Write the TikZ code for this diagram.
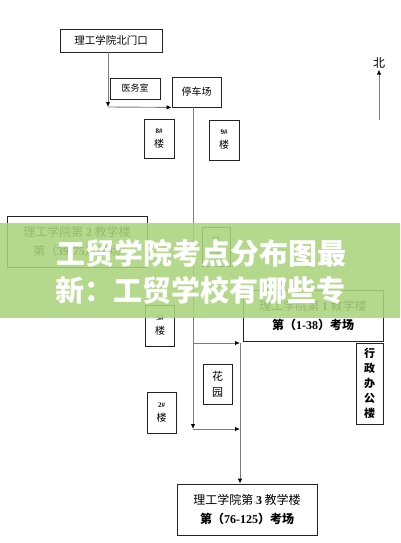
\documentclass[tikz,border=0pt]{standalone}
\usepackage{fontspec}
\newfontfamily\cjk{Noto Sans CJK SC}
\newfontfamily\numf{Liberation Serif}
\usetikzlibrary{arrows.meta}
\definecolor{linegray}{RGB}{125,125,125}
\definecolor{boxline}{RGB}{35,35,35}
\definecolor{bannergreen}{RGB}{170,211,125}
\newcommand{\nb}[1]{{\numf\bfseries #1}}
\newcommand{\bno}[1]{{\numf\bfseries\fontsize{7}{8}\selectfont #1\#}}
\begin{document}
\begin{tikzpicture}[x=1pt,y=-1pt,
  box/.style={draw=boxline, line width=0.8pt, inner sep=0pt, align=center,
    font=\cjk\fontsize{10}{12}\selectfont},
  bigbox/.style={box, minimum width=140pt, minimum height=51pt,
    font=\cjk\fontsize{12}{19}\selectfont},
  smallbld/.style={box, minimum width=30pt, minimum height=40pt,
    font=\cjk\fontsize{10}{12}\selectfont},
  conn/.style={draw=linegray, line width=0.9pt},
  arr/.style={conn, -{Latex[length=5pt,width=4.5pt,black]}},
  bannertext/.style={text=white, font=\cjk\bfseries\fontsize{29}{32}\selectfont, inner sep=0pt}
]
\useasboundingbox[fill=white] (0,0) rectangle (400,543);

% nodes
\node[box, minimum width=102pt, minimum height=23pt, font=\cjk\fontsize{10.5}{12}\selectfont] (gate) at (111,40.5) {理工学院北门口};
\node[box, minimum width=50pt, minimum height=21pt, font=\cjk\fontsize{9}{11}\selectfont] (med) at (135,88.5) {医务室};
\node[box, minimum width=49pt, minimum height=30pt] (park) at (196.5,92) {停车场};
\node[smallbld, minimum height=39pt] (b8) at (159,138.5) {\bno{8}\\[2pt]楼};
\node[smallbld] (b9) at (224,140) {\bno{9}\\[2pt]楼};
\node[bigbox] (t2) at (77,241.5) {理工学院第 \nb{2} 教学楼\\第（\nb{39-75}）考场};
\node[smallbld, minimum width=28pt, minimum height=39pt] (b6) at (216,246.5) {\bno{6}\\[2pt]楼};
\node[smallbld, minimum width=29pt, minimum height=41pt] (b3) at (160,325.5) {\bno{3}\\[2pt]楼};
\node[bigbox] (t1) at (313,315.5) {理工学院第 \nb{1} 教学楼\\\bfseries 第（\nb{1-38}）考场};
\node[smallbld, minimum width=29pt, minimum height=40pt, font=\cjk\fontsize{11}{16}\selectfont] (garden) at (217.5,384) {花\\园};
\node[smallbld, minimum width=29pt, minimum height=41pt] (b2) at (161.5,412.5) {\bno{2}\\[2pt]楼};
\node[box, minimum width=27pt, minimum height=81pt, font=\cjk\bfseries\fontsize{11}{15}\selectfont] (admin) at (369.5,383.5) {行\\政\\办\\公\\楼};
\node[bigbox] (t3) at (247,509.5) {理工学院第 \nb{3} 教学楼\\\bfseries 第（\nb{76-125}）考场};

% north marker
\node[font=\cjk\fontsize{12}{14}\selectfont, inner sep=1pt] (north) at (379,63) {北};
\coordinate (n0) at (379,120);
\draw[arr] (n0) -- (north.south);

% routes
\coordinate (j1) at (108,107);
\coordinate (j2) at (193,429);
\coordinate (r1) at (240,343);
\coordinate (r2) at (240,429);
\draw[arr] (j1 |- gate.south) -- (j1);
\draw[arr] (j1) -- (park.south west);
\draw[arr] (j2 |- park.south) -- (j2);
\draw[arr] (j2 |- r1) -- (r1);
\draw[arr] (j2) -- (r2);
\draw[arr] (r1) -- (r1 |- t3.north);

% overlay banner
\fill[bannergreen, opacity=0.88] (0,223) rectangle (400,318);
\node[bannertext] (bl1) at (201,253) {工贸学院考点分布图最};
\node[bannertext] (bl2) at (200,290) {新：工贸学校有哪些专};
\end{tikzpicture}
\end{document}
